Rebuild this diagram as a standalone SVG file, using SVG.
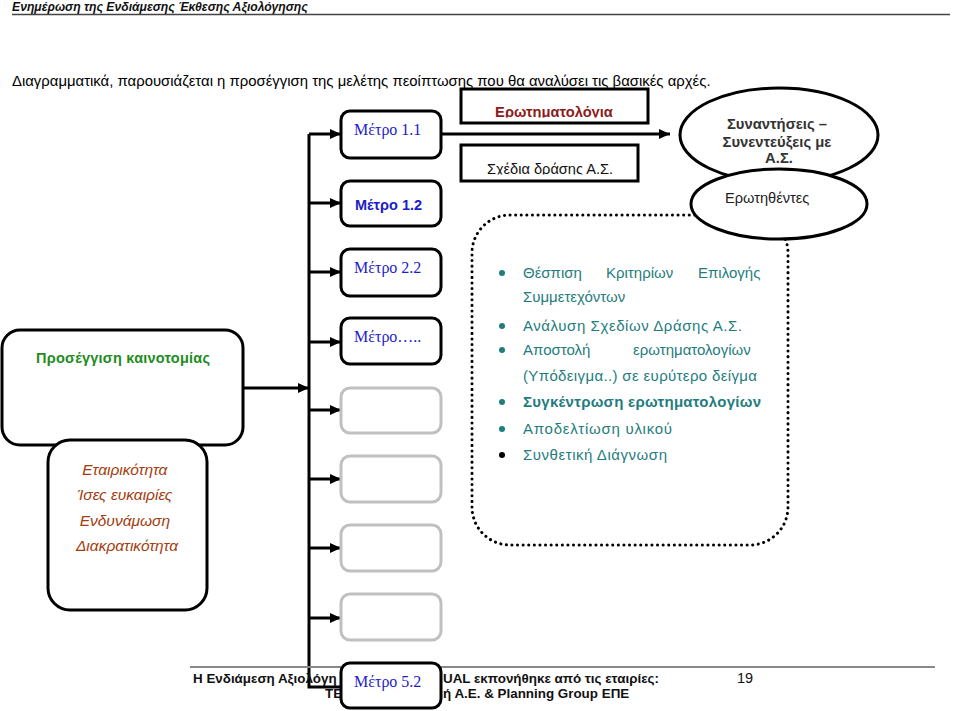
<svg xmlns="http://www.w3.org/2000/svg" width="960" height="711" viewBox="0 0 960 711">
<style>
.sans{font-family:"Liberation Sans",Arial,sans-serif}
.serif{font-family:"Liberation Serif","Times New Roman",serif}
.box{fill:#fff;stroke:#000;stroke-width:3}
.gbox{fill:#fff;stroke:#c0c0c0;stroke-width:3}
.conn{fill:none;stroke:#000;stroke-width:3}
.metro{font-family:"Liberation Serif","Times New Roman",serif;font-size:16px;fill:#1c1cc8}
.bul{font-family:"Liberation Sans",Arial,sans-serif;font-size:15px;fill:#1f7d7d}
</style>
<defs>
<marker id="ah" markerUnits="userSpaceOnUse" markerWidth="11" markerHeight="10" refX="11" refY="5" orient="auto">
<path d="M0,0 L11,5 L0,10 z" fill="#000"/>
</marker>
<clipPath id="clipE"><rect x="461" y="89" width="187" height="28.5"/></clipPath>
<clipPath id="clipS"><rect x="461" y="145" width="177" height="29.5"/></clipPath>
</defs>
<rect width="960" height="711" fill="#fff"/>

<!-- header -->
<text class="sans" x="12" y="11" font-size="12.2" font-weight="bold" font-style="italic" fill="#111">Ενημέρωση της Ενδιάμεσης Έκθεσης Αξιολόγησης</text>
<line x1="12" y1="14.5" x2="950" y2="14.5" stroke="#444" stroke-width="1.5"/>
<text class="sans" x="12" y="86" font-size="14.9" fill="#000">Διαγραμματικά, παρουσιάζεται η προσέγγιση της μελέτης πεοίπτωσης που θα αναλύσει τις βασικές αρχές.</text>

<!-- dotted frame -->
<rect x="472" y="215" width="316" height="330" rx="38" fill="none" stroke="#000" stroke-width="3" stroke-linecap="round" stroke-dasharray="0.1 5.5"/>

<!-- connectors -->
<g id="connectors">
<path class="conn" d="M309,134 V687 H341"/>
<line class="conn" x1="309" y1="134" x2="341" y2="134" marker-end="url(#ah)"/>
<line class="conn" x1="309" y1="203" x2="341" y2="203" marker-end="url(#ah)"/>
<line class="conn" x1="309" y1="272" x2="341" y2="272" marker-end="url(#ah)"/>
<line class="conn" x1="309" y1="342" x2="341" y2="342" marker-end="url(#ah)"/>
<line class="conn" x1="309" y1="410" x2="341" y2="410" marker-end="url(#ah)"/>
<line class="conn" x1="309" y1="479" x2="341" y2="479" marker-end="url(#ah)"/>
<line class="conn" x1="309" y1="548" x2="341" y2="548" marker-end="url(#ah)"/>
<line class="conn" x1="309" y1="618" x2="341" y2="618" marker-end="url(#ah)"/>
<line class="conn" x1="243" y1="388" x2="309" y2="388" marker-end="url(#ah)"/>
<line class="conn" x1="441" y1="134" x2="670" y2="134" marker-end="url(#ah)"/>
</g>

<!-- top boxes -->
<g id="erotimatologia">
<rect x="461" y="89" width="187" height="34" fill="#fff" stroke="#000" stroke-width="3"/>
<text class="sans" x="554" y="117" font-size="14.7" font-weight="bold" fill="#8b1c1c" text-anchor="middle" clip-path="url(#clipE)">Ερωτηματολόγια</text>
</g>
<g id="schedia">
<rect x="461" y="145" width="177" height="36" fill="#fff" stroke="#000" stroke-width="3"/>
<text class="sans" x="550" y="174" font-size="14.6" fill="#111" text-anchor="middle" clip-path="url(#clipS)">Σχέδια δράσης Α.Σ.</text>
</g>

<!-- ellipses -->
<g id="synantiseis">
<ellipse cx="779" cy="135" rx="99" ry="47" fill="#fff" stroke="#000" stroke-width="3"/>
<text class="sans" font-size="14.8" font-weight="bold" fill="#333" text-anchor="middle">
<tspan x="779" y="129">Συναντήσεις –</tspan>
<tspan x="779" y="147">Συνεντεύξεις με</tspan>
<tspan x="779" y="163">Α.Σ.</tspan>
</text>
</g>
<g id="erotithentes">
<ellipse cx="779" cy="204" rx="88" ry="35" fill="#fff" stroke="#000" stroke-width="3"/>
<text class="sans" x="725" y="203" font-size="14.6" fill="#222">Ερωτηθέντες</text>
</g>

<!-- left boxes -->
<g id="proseggisi">
<rect x="2" y="330" width="241" height="115" rx="18" class="box"/>
<text class="sans" x="36" y="363" font-size="14.5" font-weight="bold" fill="#1e8c1e" textLength="174" lengthAdjust="spacing">Προσέγγιση καινοτομίας</text>
</g>
<g id="arxes">
<rect x="48" y="440" width="159" height="170" rx="22" class="box"/>
<text class="sans" font-size="15.5" font-style="italic" fill="#a33c0e" text-anchor="middle">
<tspan x="127" y="475">Εταιρικότητα</tspan>
<tspan x="127" y="500">Ίσες ευκαιρίες</tspan>
<tspan x="127" y="526">Ενδυνάμωση</tspan>
<tspan x="127" y="551">Διακρατικότητα</tspan>
</text>
</g>

<!-- metro boxes -->
<g id="metro11">
<rect x="341" y="111" width="100" height="47" rx="9" class="box"/>
<text class="metro" x="354" y="135">Μέτρο 1.1</text>
</g>
<g id="metro12">
<rect x="341" y="181" width="100" height="45" rx="9" class="box"/>
<text class="sans" x="355" y="210" font-size="14.5" font-weight="bold" fill="#1c1cc8">Μέτρο 1.2</text>
</g>
<g id="metro22">
<rect x="341" y="249" width="100" height="47" rx="9" class="box"/>
<text class="metro" x="354" y="273">Μέτρο 2.2</text>
</g>
<g id="metroX">
<rect x="341" y="318" width="100" height="46" rx="9" class="box"/>
<text class="metro" x="354" y="342">Μέτρο…..</text>
</g>
<g id="empty1"><rect x="341" y="388" width="100" height="45" rx="9" class="gbox"/></g>
<g id="empty2"><rect x="341" y="456" width="100" height="46" rx="9" class="gbox"/></g>
<g id="empty3"><rect x="341" y="525" width="100" height="46" rx="9" class="gbox"/></g>
<g id="empty4"><rect x="341" y="594" width="100" height="46" rx="9" class="gbox"/></g>

<!-- bullet list -->
<g id="list">
<circle cx="502" cy="273" r="3" fill="#1f7d7d"/>
<text class="bul" y="278"><tspan x="523">Θέσπιση</tspan><tspan x="606">Κριτηρίων</tspan><tspan x="698">Επιλογής</tspan></text>
<text class="bul" x="523" y="302">Συμμετεχόντων</text>
<circle cx="502" cy="326" r="3" fill="#1f7d7d"/>
<text class="bul" x="523" y="331" textLength="219" lengthAdjust="spacing">Ανάλυση Σχεδίων Δράσης Α.Σ.</text>
<circle cx="502" cy="350" r="3" fill="#1f7d7d"/>
<text class="bul" y="355"><tspan x="523">Αποστολή</tspan><tspan x="633">ερωτηματολογίων</tspan></text>
<text class="bul" x="523" y="381" textLength="234" lengthAdjust="spacing">(Υπόδειγμα..) σε ευρύτερο δείγμα</text>
<circle cx="502" cy="402" r="3" fill="#1f7d7d"/>
<text class="bul" x="523" y="407" font-weight="bold" textLength="238" lengthAdjust="spacing">Συγκέντρωση ερωτηματολογίων</text>
<circle cx="502" cy="429" r="3" fill="#1f7d7d"/>
<text class="bul" x="523" y="434" textLength="149" lengthAdjust="spacing">Αποδελτίωση υλικού</text>
<circle cx="502" cy="455" r="3" fill="#000"/>
<text class="bul" x="523" y="460" textLength="144" lengthAdjust="spacing">Συνθετική Διάγνωση</text>
</g>

<!-- footer -->
<line x1="190" y1="667" x2="935" y2="667" stroke="#888" stroke-width="2"/>
<text class="sans" x="193" y="683" font-size="13.4" font-weight="bold" fill="#111">Η Ενδιάμεση Αξιολόγη</text>
<text class="sans" x="443" y="683" font-size="13.4" font-weight="bold" fill="#111">UAL εκπονήθηκε από τις εταιρίες:</text>
<text class="sans" x="325" y="698" font-size="13.4" font-weight="bold" fill="#111">TE</text>
<text class="sans" x="443" y="698" font-size="13.4" font-weight="bold" fill="#111">ή Α.Ε. &amp; Planning Group ΕΠΕ</text>
<text class="sans" x="737" y="683" font-size="14.5" fill="#111">19</text>

<g id="metro52">
<rect x="341" y="663" width="100" height="45" rx="9" class="box"/>
<text class="metro" x="354" y="687">Μέτρο 5.2</text>
</g>
</svg>
